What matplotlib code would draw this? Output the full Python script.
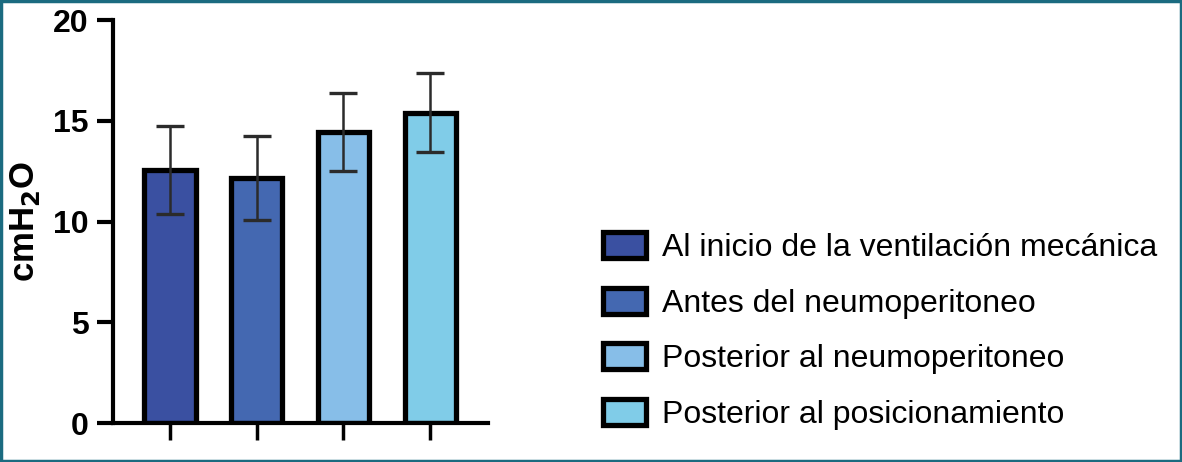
import matplotlib
matplotlib.use("Agg")
import matplotlib.pyplot as plt
from matplotlib.patches import Patch, Rectangle

categories = ["Al inicio de la ventilación mecánica", "Antes del neumoperitoneo",
              "Posterior al neumoperitoneo", "Posterior al posicionamiento"]
means = [12.55, 12.15, 14.45, 15.4]
sds = [2.2, 2.1, 1.95, 1.95]
colors = ["#3A50A1", "#4468B1", "#87BEE8", "#80CCE8"]
yticks = [0, 5, 10, 15, 20]

plt.rcParams['font.family'] = ['Liberation Sans', 'DejaVu Sans']

fig = plt.figure(figsize=(11.82, 4.62), dpi=100)
ax = fig.add_axes([0.0956, 0.0844, 0.3173, 0.8723])

x = list(range(len(categories)))
ax.bar(x, means, width=0.59, color=colors, edgecolor='black', linewidth=3.8, zorder=2)
ax.errorbar(x, means, yerr=sds, fmt='none', ecolor='#2b2b2b', elinewidth=1.8,
            capsize=10, capthick=2.4, zorder=3)

ax.set_xlim(-0.657, 3.667)
ax.set_ylim(0, 20)
ax.set_yticks(yticks)
ax.set_yticklabels([str(v) for v in yticks], fontsize=23, fontweight='bold')
ax.set_xticks(x)
ax.set_xticklabels([])
ax.tick_params(axis='y', length=11.5, width=3, pad=6)
ax.tick_params(axis='x', length=12, width=2.5, direction='out')
for s in ['top', 'right']:
    ax.spines[s].set_visible(False)
for s in ['left', 'bottom']:
    ax.spines[s].set_linewidth(3)
ax.set_ylabel("cmH$_\\mathbf{2}$O", fontsize=25, fontweight='bold', labelpad=8)

handles = [Patch(facecolor=c, edgecolor='black', linewidth=3.8) for c in colors]
leg = fig.legend(handles, categories, loc='upper left', bbox_to_anchor=(0.51, 0.498),
                 frameon=False, fontsize=23, handlelength=1.36, handleheight=0.88,
                 handletextpad=0.5, labelspacing=0.77, borderpad=0, borderaxespad=0)

# outer frame
fig.patches.append(Rectangle((0.001, 0.002), 0.998, 0.996, transform=fig.transFigure,
                             fill=False, edgecolor='#1B6B80', linewidth=2.5))

fig.savefig("out.png", dpi=100)
